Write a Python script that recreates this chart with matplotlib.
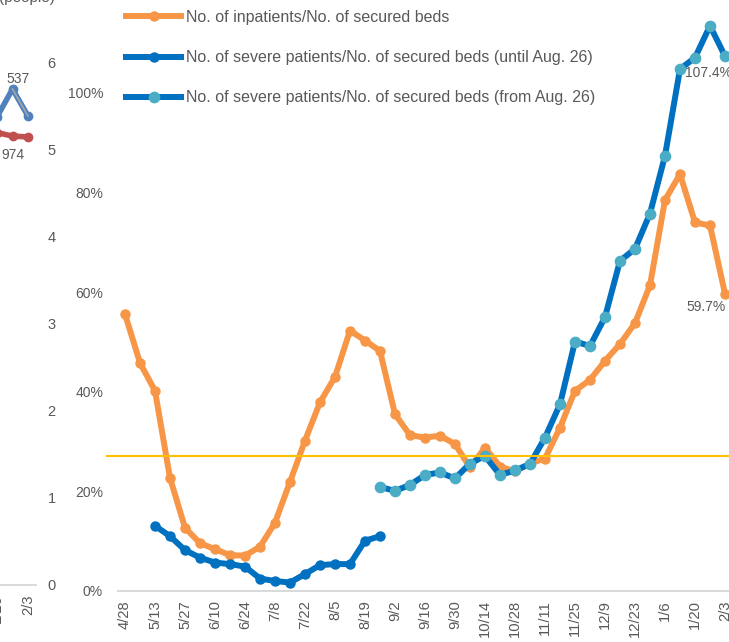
import numpy as np
import pandas as pd
import matplotlib.pyplot as plt

plt.rcParams['font.family'] = ['Liberation Sans', 'DejaVu Sans']

# weekly categories (first gap is 8 days)
dates = ['4/28'] + [f'{d.month}/{d.day}' for d in pd.date_range('2020-05-06', '2021-02-03', freq='7D')]

# No. of inpatients / No. of secured beds (%)
inpatient_ratio = [55.6, 45.8, 40.2, 22.7, 12.7, 9.6, 8.4, 7.2, 7.1, 8.9,
                   13.7, 21.9, 30.2, 37.9, 43.0, 52.3, 50.3, 48.2, 35.5, 31.3,
                   30.8, 31.2, 29.5, 24.8, 28.8, 25.0, 24.0, 25.6, 26.6, 32.8,
                   40.2, 42.4, 46.2, 49.6, 53.8, 61.4, 78.5, 83.7, 74.0, 73.4, 59.7]

# severe patients / secured beds, old definition (until Aug. 26)
severe_until = [np.nan] * 2 + [13.1, 11.0, 8.2, 6.7, 5.7, 5.4, 4.9, 2.5, 2.0, 1.7,
                               3.4, 5.2, 5.4, 5.4, 10.1, 11.0] + [np.nan] * 23

# severe patients / secured beds, new definition (from Aug. 26)
severe_from = [np.nan] * 17 + [20.9, 20.1, 21.3, 23.3, 23.8, 22.6, 25.6, 27.1,
                               23.3, 24.2, 25.5, 30.8, 37.5, 50.1, 49.2, 55.0,
                               66.3, 68.7, 75.8, 87.4, 104.8, 107.1, 113.5, 107.4]

threshold = 27.2

# right end of the neighbouring chart (only partly visible)
left_dates = ['1/20', '1/27', '2/3']
left_blue = [5.37, 5.69, 5.38]
left_red = [5.19, 5.15, 5.14]

ORANGE = '#F79646'
DARK_BLUE = '#0070C0'
LIGHT_BLUE = '#4BACC6'
YELLOW = '#FFC000'
GREY_TXT = '#595959'
AXIS_GREY = '#D9D9D9'

W, H = 729, 642
fig = plt.figure(figsize=(W / 100, H / 100), dpi=100)

# ---- main chart ----
ax = fig.add_axes([117.5 / W, (H - 591) / H, 615 / W, 597.6 / H])
x = np.arange(len(dates))

ax.plot(x, inpatient_ratio, color=ORANGE, lw=4.3, marker='o', ms=6.5,
        solid_joinstyle='round', label='No. of inpatients/No. of secured beds', zorder=2)
ax.plot(x, severe_until, color=DARK_BLUE, lw=4.3, marker='o', ms=6.5,
        solid_joinstyle='round', label='No. of severe patients/No. of secured beds (until Aug. 26)', zorder=3)
ax.plot(x, severe_from, color=DARK_BLUE, lw=4.3, marker='o', ms=7.4,
        markerfacecolor=LIGHT_BLUE, markeredgecolor=LIGHT_BLUE, solid_joinstyle='round',
        label='No. of severe patients/No. of secured beds (from Aug. 26)', zorder=3)

ax.plot([-1.2, 41], [threshold, threshold], color=YELLOW, lw=1.5, clip_on=False, zorder=4)

ax.annotate(f'{severe_from[-1]:.1f}%', (x[-1], severe_from[-1]), xytext=(-40, -17),
            textcoords='offset pixels', ha='left', va='center', fontsize=10, color=GREY_TXT)
ax.annotate(f'{inpatient_ratio[-1]:.1f}%', (x[-1], inpatient_ratio[-1]), xytext=(-39, -13),
            textcoords='offset pixels', ha='left', va='center', fontsize=10, color=GREY_TXT)

ax.set_xlim(-0.5, 40.5)
ax.set_ylim(0, 120)
ax.set_yticks(range(0, 101, 20))
ax.set_yticklabels([f'{v}%' for v in range(0, 101, 20)])
ax.set_xticks(x[::2])
ax.set_xticklabels(dates[::2], rotation=90, va='top', ha='center')
ax.tick_params(axis='y', length=0, pad=10.4, labelsize=10, labelcolor=GREY_TXT)
ax.tick_params(axis='x', length=0, pad=6.5, labelsize=10.6, labelcolor=GREY_TXT)
for s in ['top', 'right', 'left']:
    ax.spines[s].set_visible(False)
ax.spines['bottom'].set_color(AXIS_GREY)
ax.spines['bottom'].set_linewidth(1.4)

ax.legend(loc='upper left', bbox_to_anchor=(126 / W, 1 - 10 / H), bbox_transform=fig.transFigure,
          frameon=False, fontsize=11.5, labelcolor=GREY_TXT, handlelength=3.46,
          handletextpad=0.3, labelspacing=1.58, borderpad=0, borderaxespad=0)

# ---- neighbouring chart, cut off at the left edge ----
lax = fig.add_axes([-200 / W, (H - 585) / H, 235.75 / W, 523 / H])
lx = np.arange(len(left_dates))
lax.plot(lx, left_blue, color='#4F81BD', lw=4, marker='o', ms=6)
lax.plot(lx[1:], left_blue[1:], color='#A6A6A6', lw=1.2)
lax.plot(lx, left_red, color='#C0504D', lw=4, marker='o', ms=6)
lax.annotate('537', (lx[1], left_blue[1]), xytext=(6, 10), textcoords='offset pixels',
             ha='center', va='center', fontsize=10, color=GREY_TXT)
lax.annotate('974', (lx[1], left_red[1]), xytext=(0, -19), textcoords='offset pixels',
             ha='center', va='center', fontsize=10, color=GREY_TXT)
lax.set_xlim(-12.71, 2.5)
lax.set_ylim(0, 6)
lax.yaxis.tick_right()
lax.set_yticks(range(0, 7))
lax.set_xticks([0, 2])
lax.set_xticklabels([left_dates[0], left_dates[2]], rotation=90, va='top', ha='center')
lax.tick_params(axis='y', length=0, pad=8.6, labelsize=10.5, labelcolor=GREY_TXT)
lax.tick_params(axis='x', length=0, pad=6.5, labelsize=10.6, labelcolor=GREY_TXT)
for s in ['top', 'right', 'left']:
    lax.spines[s].set_visible(False)
lax.spines['bottom'].set_color(AXIS_GREY)
lax.spines['bottom'].set_linewidth(1.4)

fig.text(55 / W, 1 + 2 / H, '(people)', ha='right', va='center', fontsize=11, color=GREY_TXT)

fig.savefig('out.png', dpi=100)
